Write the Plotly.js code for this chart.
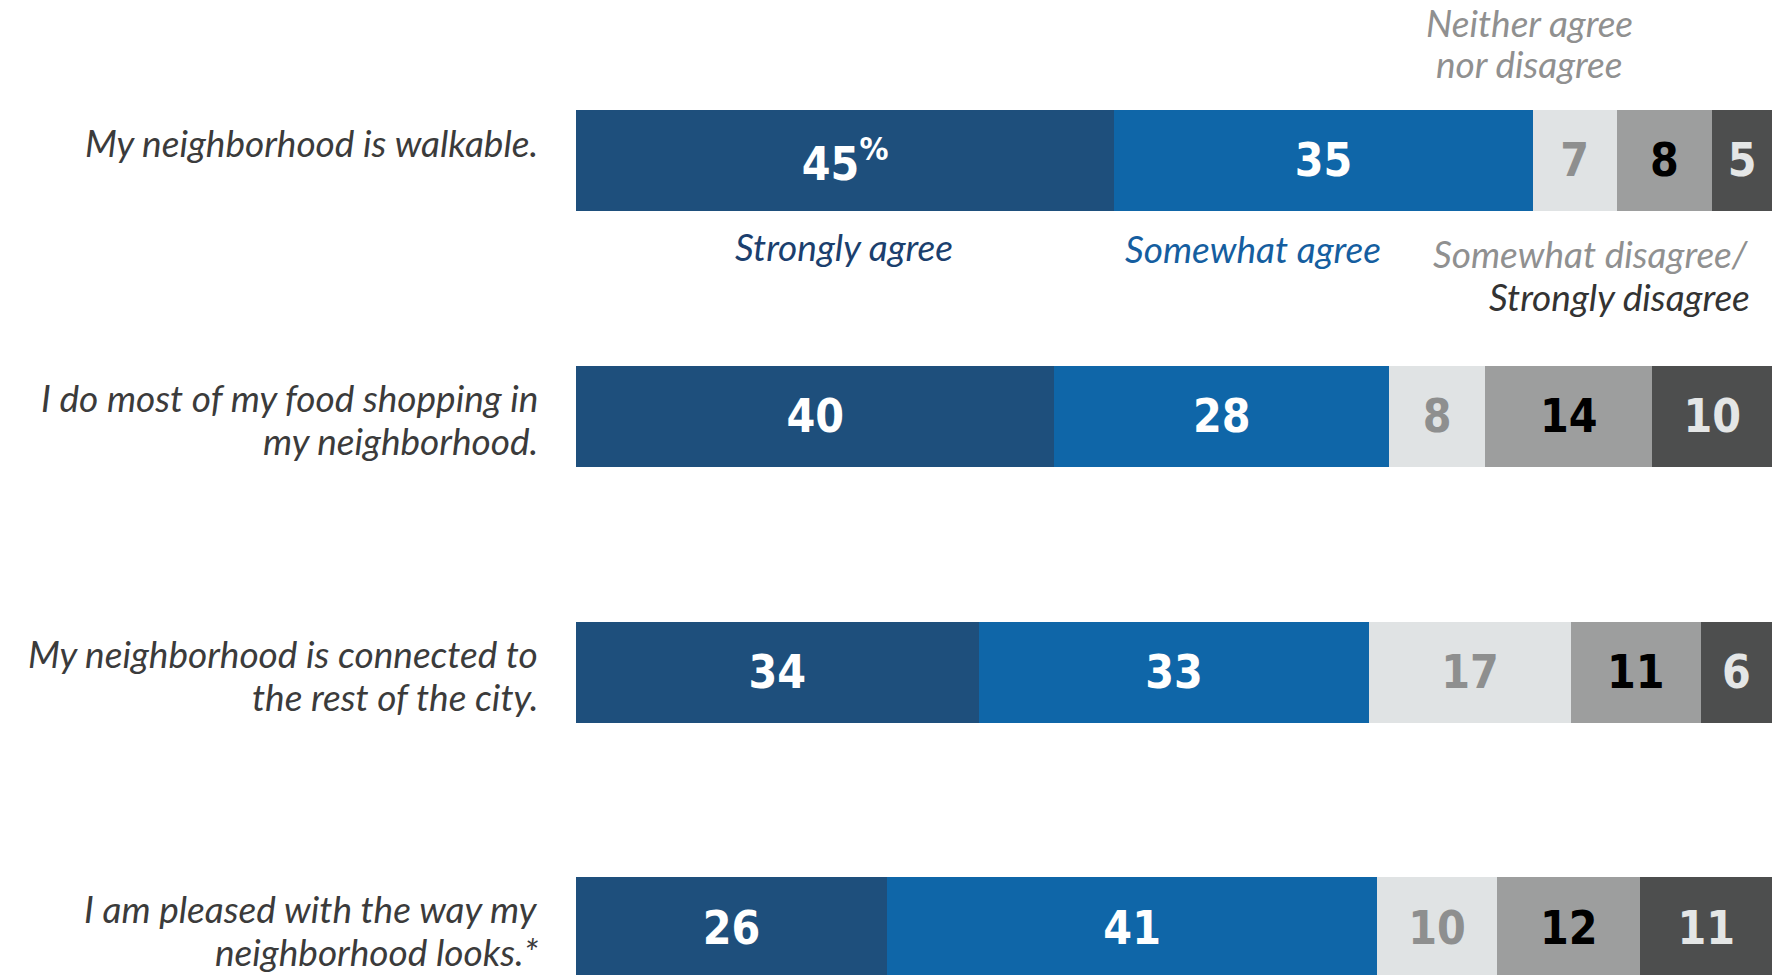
<!DOCTYPE html>
<html>
<head>
<meta charset="utf-8">
<script src="https://cdn.plot.ly/plotly-3.0.1.min.js"></script>
<style>
  html, body { margin: 0; padding: 0; background: #ffffff; }
  #chart { width: 1785px; height: 975px; }
</style>
</head>
<body>
<div id="chart"></div>
<script>
// ---- Data ----
const statements = [
  "My neighborhood is walkable.",
  "I do most of my food shopping in<br>my neighborhood.",
  "My neighborhood is connected to<br>the rest of the city.",
  "I am pleased with the way my<br>neighborhood looks.*"
];
const seriesNames = ["Strongly agree", "Somewhat agree", "Neither agree nor disagree", "Somewhat disagree", "Strongly disagree"];
const stronglyAgree    = [45, 40, 34, 26];
const somewhatAgree    = [35, 28, 33, 41];
const neither          = [7, 8, 17, 10];
const somewhatDisagree = [8, 14, 11, 12];
const stronglyDisagree = [5, 10, 6, 11];

// ---- Styles ----
const barColors  = ["#1e4f7c", "#0f66a8", "#e0e3e4", "#9d9e9e", "#4d4e4e"];
const textColors = ["#ffffff", "#ffffff", "#8e8f8f", "#000000", "#e4e6e6"];
const valueFont = "'DejaVu Sans Condensed', 'DejaVu Sans', sans-serif";
const labelFont = "Lato, 'Open Sans', sans-serif";
const labelSize = 37;

const allSeries = [stronglyAgree, somewhatAgree, neither, somewhatDisagree, stronglyDisagree];

const traces = allSeries.map((vals, i) => ({
  type: "bar",
  orientation: "h",
  name: seriesNames[i],
  y: statements,
  x: vals,
  width: 0.395,
  marker: { color: barColors[i], line: { width: 0 } },
  text: vals.map((v, j) => (i === 0 && j === 0) ? v + "<sup>%</sup>" : String(v)),
  textposition: "inside",
  insidetextanchor: "middle",
  textangle: 0,
  constraintext: "none",
  textfont: { family: valueFont, size: 46, color: textColors[i], weight: 700, stretch: "condensed" },
  hoverinfo: "skip",
  showlegend: false
}));

// Row labels, one annotation per line
const rowAnnotations = [];
statements.forEach((s, j) => {
  const lines = s.split("<br>");
  const shifts = lines.length === 1 ? [18] : [19, -24];
  lines.forEach((ln, k) => {
    rowAnnotations.push({
      xref: "paper", yref: "y",
      x: 0, y: s,
      xshift: -36, yshift: shifts[k],
      xanchor: "right", yanchor: "middle",
      align: "right",
      text: "<i>" + ln + "</i>",
      showarrow: false,
      font: { family: labelFont, size: labelSize, color: "#3b3b3b" }
    });
  });
});

function px2x(px) { return (px - 576) / 1196; }
function py2y(py) { return 1 - py / 975; }

const legendAnnotations = [
  { x: px2x(1529), y: py2y(22), xanchor: "center", text: "<i>Neither agree</i>", color: "#909090" },
  { x: px2x(1529), y: py2y(64), xanchor: "center", text: "<i>nor disagree</i>", color: "#909090" },
  { x: px2x(844), y: py2y(246), xanchor: "center", text: "<i>" + seriesNames[0] + "</i>", color: "#1b3f6e" },
  { x: px2x(1253), y: py2y(249), xanchor: "center", text: "<i>" + seriesNames[1] + "</i>", color: "#155ea0" },
  { x: px2x(1751), y: py2y(253), xanchor: "right", text: "<i>" + seriesNames[3] + "/</i>", color: "#909090" },
  { x: px2x(1752), y: py2y(296), xanchor: "right", text: "<i>" + seriesNames[4] + "</i>", color: "#333333" }
].map(a => ({
  xref: "paper", yref: "paper",
  x: a.x, y: a.y, xanchor: a.xanchor, yanchor: "middle",
  align: "center",
  text: a.text, showarrow: false,
  font: { family: labelFont, size: labelSize, color: a.color }
}));

const layout = {
  width: 1785, height: 975,
  margin: { l: 576, r: 13, t: 0, b: 0, pad: 0 },
  paper_bgcolor: "#ffffff",
  plot_bgcolor: "#ffffff",
  barmode: "stack",
  barnorm: "percent",
  showlegend: false,
  xaxis: { range: [0, 100], visible: false, fixedrange: true },
  yaxis: {
    type: "category",
    categoryorder: "array",
    categoryarray: statements,
    range: [3.184, -0.627],
    visible: false,
    fixedrange: true
  },
  annotations: rowAnnotations.concat(legendAnnotations)
};

Plotly.newPlot("chart", traces, layout, { displayModeBar: false, staticPlot: true });
</script>
</body>
</html>
